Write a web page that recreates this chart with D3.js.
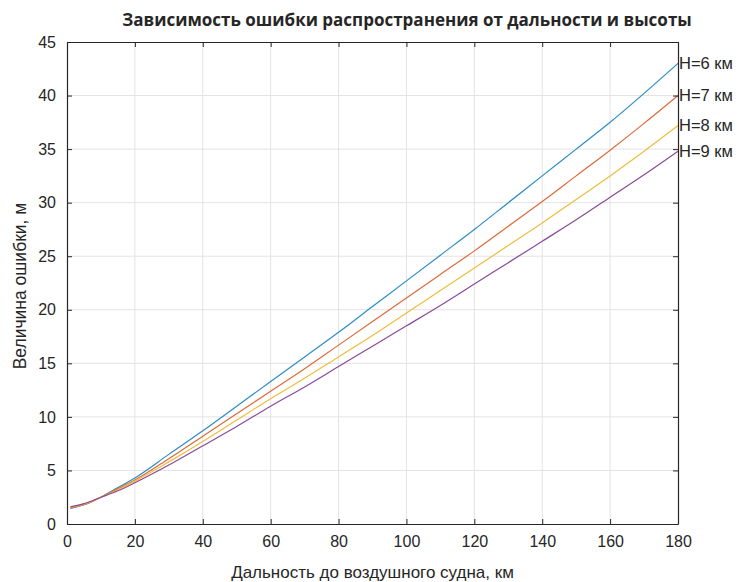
<!DOCTYPE html>
<html>
<head>
<meta charset="utf-8">
<script src="https://cdn.jsdelivr.net/npm/d3@7"></script>
<style>
  body { margin: 0; background: #fff; }
  svg { display: block; }
  text { font-family: "Liberation Sans", Arial, sans-serif; fill: #262626; }
</style>
</head>
<body>
<svg id="chart" width="741" height="582"></svg>
<script>
// Distance to aircraft, km
const distance = [1, 5, 10, 15, 20, 30, 40, 50, 60, 70, 80, 90, 100, 110, 120, 130, 140, 150, 160, 170, 180];

// Propagation error, m, for each flight altitude
const errH6 = [1.45, 1.8, 2.5, 3.4, 4.3, 6.5, 8.7, 11.0, 13.3, 15.6, 17.9, 20.3, 22.7, 25.1, 27.5, 30.0, 32.5, 35.0, 37.5, 40.2, 43.0];
const errH7 = [1.5, 1.8, 2.5, 3.3, 4.1, 6.1, 8.2, 10.3, 12.4, 14.5, 16.7, 18.9, 21.1, 23.3, 25.5, 27.8, 30.1, 32.5, 34.9, 37.4, 40.0];
const errH8 = [1.55, 1.85, 2.5, 3.2, 4.0, 5.8, 7.7, 9.7, 11.7, 13.6, 15.6, 17.6, 19.7, 21.8, 23.9, 26.0, 28.1, 30.3, 32.5, 34.8, 37.2];
const errH9 = [1.6, 1.9, 2.5, 3.1, 3.85, 5.5, 7.3, 9.1, 11.0, 12.8, 14.7, 16.6, 18.5, 20.4, 22.4, 24.4, 26.4, 28.4, 30.5, 32.6, 34.8];

const seriesLabels = ["H=6 км", "H=7 км", "H=8 км", "H=9 км"];
const seriesColors = ["#2b8cc4", "#dd6a3a", "#edbd3c", "#8a4a9a"];

const xTicks = [0, 20, 40, 60, 80, 100, 120, 140, 160, 180];
const yTicks = [0, 5, 10, 15, 20, 25, 30, 35, 40, 45];

const titleText = "Зависимость ошибки распространения от дальности и высоты";
const xLabelText = "Дальность до воздушного судна, км";
const yLabelText = "Величина ошибки, м";

const svg = d3.select("#chart");
const plotLeft = 67, plotRight = 678, plotTop = 42, plotBottom = 524;

const x = d3.scaleLinear().domain([0, 180]).range([plotLeft, plotRight]);
const y = d3.scaleLinear().domain([0, 45]).range([plotBottom, plotTop]);

// grid
const grid = svg.append("g");
grid.selectAll("line.gx").data(xTicks.slice(1, -1)).join("line")
  .attr("x1", d => x(d)).attr("x2", d => x(d))
  .attr("y1", plotTop).attr("y2", plotBottom)
  .attr("stroke", "#e3e3e3").attr("stroke-width", 1);
grid.selectAll("line.gy").data(yTicks.slice(1, -1)).join("line")
  .attr("x1", plotLeft).attr("x2", plotRight)
  .attr("y1", d => y(d)).attr("y2", d => y(d))
  .attr("stroke", "#e3e3e3").attr("stroke-width", 1);

// series
const series = [errH6, errH7, errH8, errH9];
const line = d3.line()
  .x((d, i) => x(distance[i]))
  .y(d => y(d))
  .curve(d3.curveMonotoneX);

series.forEach((vals, k) => {
  svg.append("path")
    .datum(vals)
    .attr("d", line)
    .attr("fill", "none")
    .attr("stroke", seriesColors[k])
    .attr("stroke-width", 1.2);
});

// axes (ticks pointing inward, box on)
const axisStyle = g => {
  g.select(".domain").attr("stroke", "#262626").attr("stroke-width", 1.2);
  g.selectAll(".tick line").attr("stroke", "#262626");
  g.selectAll(".tick text").attr("fill", "#3a3a3a")
    .style("font-size", "16px")
    .style("font-family", "'Liberation Sans', Arial, sans-serif");
};

svg.append("g").attr("transform", `translate(0,${plotBottom})`)
  .call(d3.axisBottom(x).tickValues(xTicks).tickSizeInner(-5).tickSizeOuter(0).tickPadding(12))
  .call(axisStyle);
svg.append("g").attr("transform", `translate(0,${plotTop})`)
  .call(d3.axisTop(x).tickValues(xTicks).tickSizeInner(-5).tickSizeOuter(0).tickFormat(""))
  .call(axisStyle);
svg.append("g").attr("transform", `translate(${plotLeft},0)`)
  .call(d3.axisLeft(y).tickValues(yTicks).tickSizeInner(-5).tickSizeOuter(0).tickPadding(11))
  .call(axisStyle);
svg.append("g").attr("transform", `translate(${plotRight},0)`)
  .call(d3.axisRight(y).tickValues(yTicks).tickSizeInner(-5).tickSizeOuter(0).tickFormat(""))
  .call(axisStyle);

// end labels
series.forEach((vals, k) => {
  svg.append("text")
    .attr("x", x(distance[distance.length - 1]) + 1)
    .attr("y", y(vals[vals.length - 1]) + 1.5)
    .attr("dominant-baseline", "middle")
    .style("font-size", "16.5px")
    .attr("fill", "#262626")
    .text(seriesLabels[k]);
});

// title and axis labels
svg.append("text")
  .attr("x", 407).attr("y", 26)
  .attr("text-anchor", "middle")
  .style("font-family", "'Open Sans', 'Noto Sans', sans-serif")
  .style("font-weight", "bold")
  .style("font-size", "17px")
  .attr("fill", "#111")
  .text(titleText);

svg.append("text")
  .attr("x", (plotLeft + plotRight) / 2).attr("y", 578)
  .attr("text-anchor", "middle")
  .style("font-size", "17px")
  .attr("fill", "#3a3a3a")
  .text(xLabelText);

svg.append("text")
  .attr("transform", `translate(26,${(plotTop + plotBottom) / 2 + 3}) rotate(-90)`)
  .attr("text-anchor", "middle")
  .style("font-size", "17.5px")
  .attr("fill", "#3a3a3a")
  .text(yLabelText);
</script>
</body>
</html>
